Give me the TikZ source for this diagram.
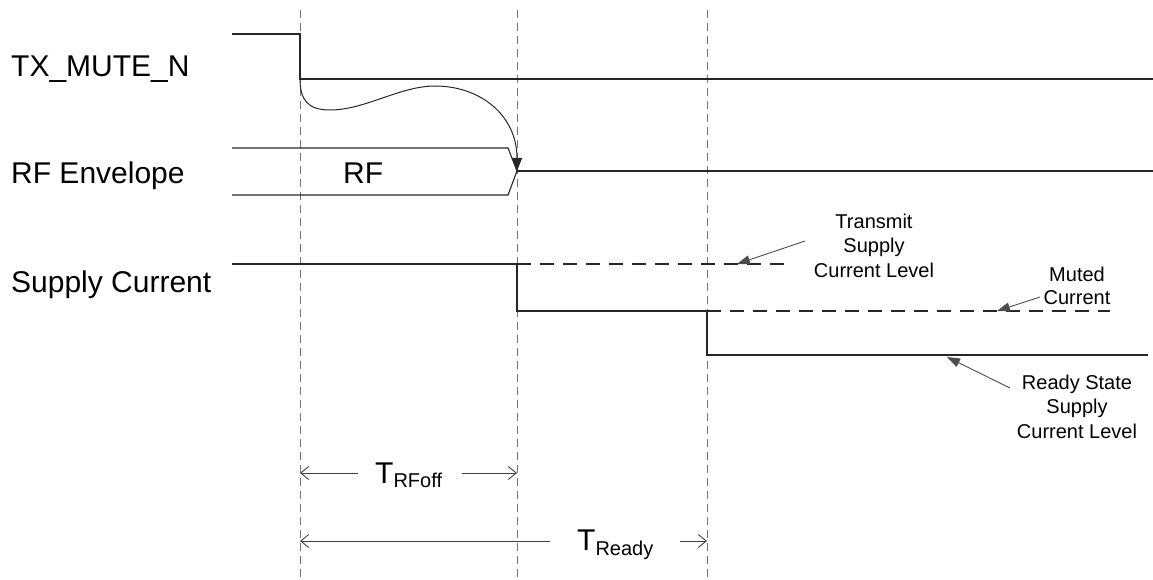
\documentclass[tikz,border=0pt]{standalone}
\usepackage{fontspec}
\setmainfont{Liberation Sans}
\usetikzlibrary{arrows.meta}
\begin{document}
\begin{tikzpicture}[x=1pt,y=-1pt,
  sig/.style={line width=1.1pt,draw=black!85},
  sigdash/.style={line width=1.1pt,draw=black!85,dash pattern=on 14pt off 9pt},
  guide/.style={line width=1pt,draw=black!55,dash pattern=on 8pt off 5pt},
  bigtxt/.style={inner sep=0pt,anchor=base west,font=\fontsize{30}{30}\selectfont},
  smalltxt/.style={inner sep=0pt,anchor=base,font=\fontsize{20}{20}\selectfont},
  note/.style={line width=0.9pt,draw=black!70,-{Triangle[length=13pt,width=9pt]}},
  dim/.style={line width=0.9pt,draw=black!75,-{Straight Barb[length=8pt,width=13pt]}}]
\useasboundingbox (0,0) rectangle (1153,580);
% guide lines
\coordinate (g1t) at (300,10); \coordinate (g1b) at (300,580);
\coordinate (g2t) at (517,10); \coordinate (g2b) at (517,580);
\coordinate (g3t) at (707,10); \coordinate (g3b) at (707,580);
\draw[guide] (g1t) -- (g1b);
\draw[guide] (g2t) -- (g2b);
\draw[guide] (g3t) -- (g3b);
% labels
\node[bigtxt] (lmute) at (11,77) {TX\_MUTE\_N};
\node[bigtxt] (lrf) at (11,183) {RF Envelope};
\node[bigtxt] (lsup) at (11,292) {Supply Current};
% TX_MUTE_N
\coordinate (mfall) at (300,79);
\draw[sig] (232,34) -- (300,34) -- (mfall) -- (1153,79);
% RF envelope
\coordinate (rftip) at (517,171);
\draw[sig] (232,148) -- (508,148) -- (rftip);
\draw[sig] (232,195) -- (508,195) -- (rftip);
\draw[sig] (rftip) -- (1153,171);
\node[inner sep=0pt,anchor=base west,font=\fontsize{30}{30}\selectfont] (rf) at (343,183) {RF};
% causal curve
\draw[line width=1pt,draw=black!85,-{Triangle[length=13pt,width=10pt]}]
  (mfall) .. controls (300,100) and (308,110) .. (330,110)
  .. controls (365,110) and (400,86) .. (435,86)
  .. controls (480,86) and (517,115) .. (rftip);
% Supply current
\draw[sig] (232,264) -- (517,264) -- (517,311) -- (707,311) -- (707,355) -- (1148,355);
\draw[sigdash] (517,264) -- (785,264);
\draw[sigdash] (707,311) -- (1110,311);
% annotations
\node[smalltxt] (t1) at (874,228) {Transmit};
\node[smalltxt] (t2) at (874,252.5) {Supply};
\node[smalltxt] (t3) at (874,277) {Current Level};
\node[smalltxt] (m1) at (1077,281) {Muted};
\node[smalltxt] (m2) at (1077,304) {Current};
\node[smalltxt] (r1) at (1077,389) {Ready State};
\node[smalltxt] (r2) at (1077,413.5) {Supply};
\node[smalltxt] (r3) at (1077,438) {Current Level};
\coordinate (a1s) at (805,241); \coordinate (a1e) at (737,264);
\coordinate (a2s) at (1040,297); \coordinate (a2e) at (997,311);
\coordinate (a3s) at (1010,388); \coordinate (a3e) at (947,357);
\draw[note] (a1s) -- (a1e);
\draw[note] (a2s) -- (a2e);
\draw[note] (a3s) -- (a3e);
% T_RFoff
\coordinate (d1a) at (300,473); \coordinate (d1b) at (358,473);
\coordinate (d1c) at (462,473); \coordinate (d1d) at (517,473);
\draw[dim] (d1b) -- (d1a);
\draw[dim] (d1c) -- (d1d);
\node[inner sep=0pt,anchor=base west] (trf) at (375,483)
  {\fontsize{30}{30}\selectfont T\raisebox{-4pt}{\fontsize{20}{20}\selectfont RFoff}};
% T_Ready
\coordinate (d2a) at (300,541); \coordinate (d2b) at (550,541);
\coordinate (d2c) at (680,541); \coordinate (d2d) at (707,541);
\draw[dim] (d2b) -- (d2a);
\draw[dim] (d2c) -- (d2d);
\node[inner sep=0pt,anchor=base west] (trd) at (577,550)
  {\fontsize{30}{30}\selectfont T\raisebox{-5pt}{\fontsize{20}{20}\selectfont Ready}};
\end{tikzpicture}
\end{document}
